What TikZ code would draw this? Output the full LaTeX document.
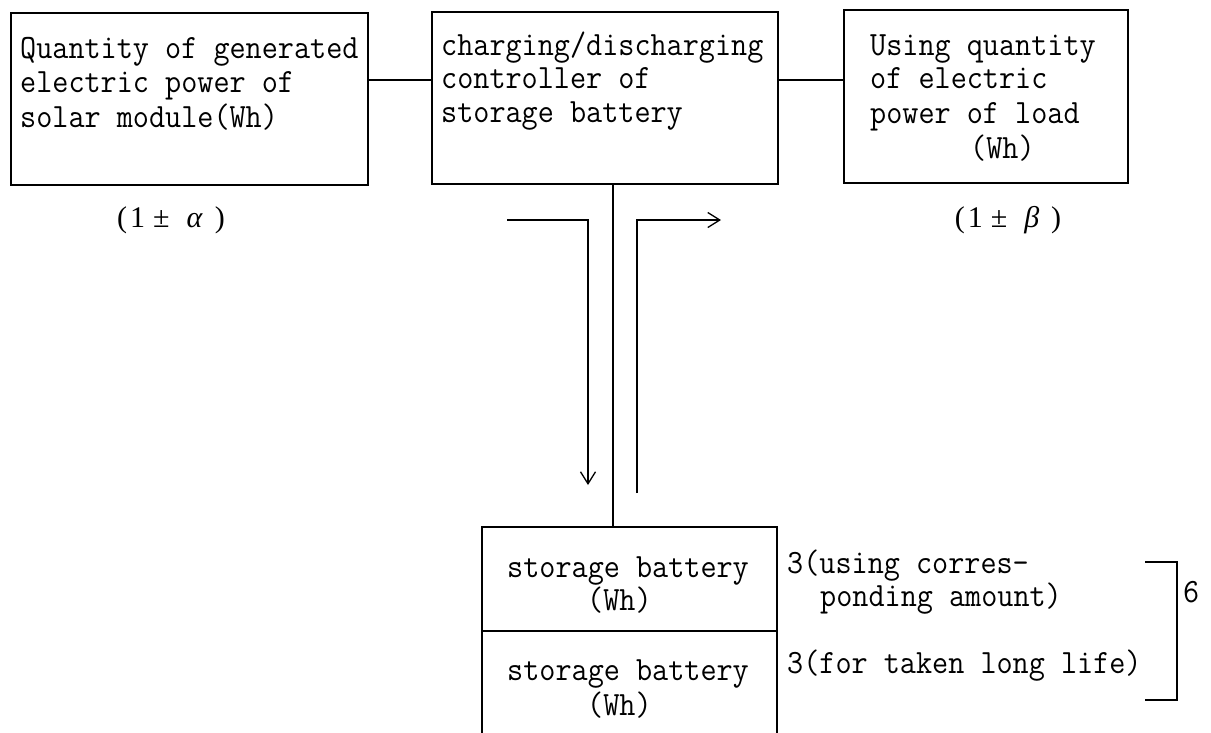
\documentclass[tikz,border=0pt]{standalone}
\usepackage{fontspec}
\setmainfont{Liberation Serif}
\setmonofont[FakeStretch=0.92]{Latin Modern Mono}
\usetikzlibrary{arrows.meta}
\begin{document}
\begin{tikzpicture}[x=1pt,y=-1pt,
  box/.style={draw, line width=2pt, inner sep=0pt},
  wire/.style={line width=1.5pt},
  flow/.style={line width=1.3pt, -{Straight Barb[length=12pt,width=15pt,line width=1.3pt]}},
  txt/.style={anchor=base west, inner sep=0pt, font=\ttfamily\fontsize{34}{34}\selectfont},
  lbl/.style={inner sep=0pt, font=\fontsize{30}{30}\selectfont}]
\useasboundingbox (0,0) rectangle (1211,732);
\clip (0,0) rectangle (1211,732);
% boxes
\node[box, minimum width=357pt, minimum height=172pt] (gen) at (189.5,99) {};
\node[box, minimum width=346pt, minimum height=172pt] (ctrl) at (605,98) {};
\node[box, minimum width=284pt, minimum height=173pt] (load) at (986,96.5) {};
\node[box, minimum width=295pt, minimum height=104pt] (bat1) at (629.5,579) {};
\node[box, minimum width=295pt, minimum height=106pt] (bat2) at (629.5,684) {};
% box texts
\node[txt] (g1) at (20,58) {Quantity of generated};
\node[txt] (g2) at (20,92) {electric power of};
\node[txt] (g3) at (20,127) {solar module(Wh)};
\node[txt] (c1) at (441,55) {charging/discharging};
\node[txt] (c2) at (441,88) {controller of};
\node[txt] (c3) at (441,122) {storage battery};
\node[txt] (l1) at (870,55) {Using quantity};
\node[txt] (l2) at (870,88) {of electric};
\node[txt] (l3) at (870,123) {power of load};
\node[txt] (l4) at (970,158) {(Wh)};
\node[txt] (s1) at (507,577) {storage battery};
\node[txt] (s2) at (587,610) {(Wh)};
\node[txt] (s3) at (507,680) {storage battery};
\node[txt] (s4) at (587,715) {(Wh)};
\node[txt] (r1) at (787,573) {3(using corres-};
\node[txt] (r2) at (820,606) {ponding amount)};
\node[txt] (r3) at (787,673) {3(for taken long life)};
\node[txt] (six) at (1183,602) {6};
% factor labels
\node[lbl] (alpha) at (171,220) {(\hspace{3pt}1\hspace{8pt}±\hspace{17pt}\textit{α}\hspace{12pt})};
\node[lbl] (beta) at (1008,220) {(\hspace{3pt}1\hspace{8pt}±\hspace{17pt}\textit{β}\hspace{12pt})};
% connectors
\coordinate (hy) at (0,80);
\coordinate (vx) at (613,0);
\draw[wire] (gen.east |- hy) -- (ctrl.west |- hy);
\draw[wire] (ctrl.east |- hy) -- (load.west |- hy);
\draw[wire] (ctrl.south -| vx) -- (bat1.north -| vx);
% flow arrows
\coordinate (a1) at (507,220);
\coordinate (a2) at (588,220);
\coordinate (a3) at (588,485);
\draw[flow] (a1) -- (a2) -- (a3);
\coordinate (b1) at (637,493);
\coordinate (b2) at (637,220);
\coordinate (b3) at (721,220);
\draw[flow] (b1) -- (b2) -- (b3);
% bracket
\coordinate (k1) at (1145,562);
\coordinate (k2) at (1177,562);
\coordinate (k3) at (1177,700);
\coordinate (k4) at (1145,700);
\draw[wire] (k1) -- (k2) -- (k3) -- (k4);
\end{tikzpicture}
\end{document}
